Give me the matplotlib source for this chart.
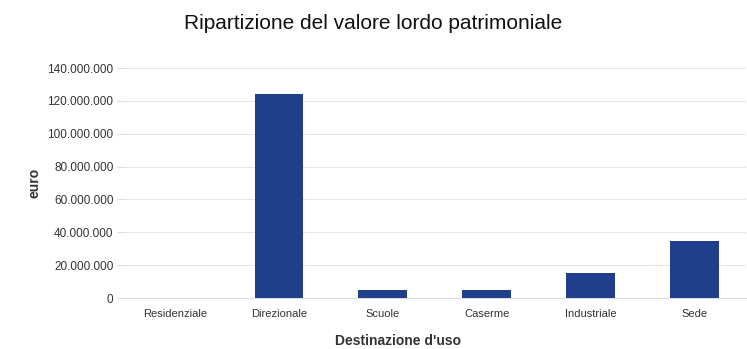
import matplotlib as mpl
mpl.use('Agg')
import matplotlib.pyplot as plt
from matplotlib.ticker import FuncFormatter, MultipleLocator

categorie = ['Residenziale', 'Direzionale', 'Scuole', 'Caserme', 'Industriale', 'Sede']
valori = [300000, 124500000, 5000000, 4700000, 15200000, 34700000]

plt.rcParams['font.family'] = ['Liberation Sans', 'DejaVu Sans']

def migliaia(v, pos):
    return '{:,.0f}'.format(v).replace(',', '.')

fig = plt.figure(figsize=(7.47, 3.49), dpi=100)
ax = fig.add_axes([0.165, 0.146, 0.834, 0.659])

ax.bar(range(len(categorie)), valori, width=0.47, color='#1f3e8c', zorder=3)

ax.set_xlim(-0.5, len(categorie) - 0.5)
ax.set_ylim(0, 140000000)
ax.yaxis.set_major_locator(MultipleLocator(20000000))
ax.yaxis.set_major_formatter(FuncFormatter(migliaia))
ax.set_xticks(range(len(categorie)))
ax.set_xticklabels(categorie)

ax.grid(axis='y', color='#e6e6e6', linewidth=0.8, zorder=0)
for s in ['top', 'right', 'left']:
    ax.spines[s].set_visible(False)
ax.spines['bottom'].set_color('#dddddd')
ax.tick_params(axis='x', labelsize=8, colors='#333333', length=0, pad=8)
ax.tick_params(axis='y', labelsize=8.5, colors='#333333', length=4, color='#dddddd', pad=3)

ax.set_xlabel("Destinazione d'uso", fontsize=10, fontweight='bold', color='#333333',
              va='center')
ax.xaxis.set_label_coords(0.441, -0.185)
ax.set_ylabel('euro', fontsize=10, fontweight='bold', color='#333333', va='center')
ax.yaxis.set_label_coords(-0.143, 0.5)
fig.suptitle('Ripartizione del valore lordo patrimoniale', fontsize=15, y=0.96, color='#111111')

plt.savefig('out.png', dpi=100)
